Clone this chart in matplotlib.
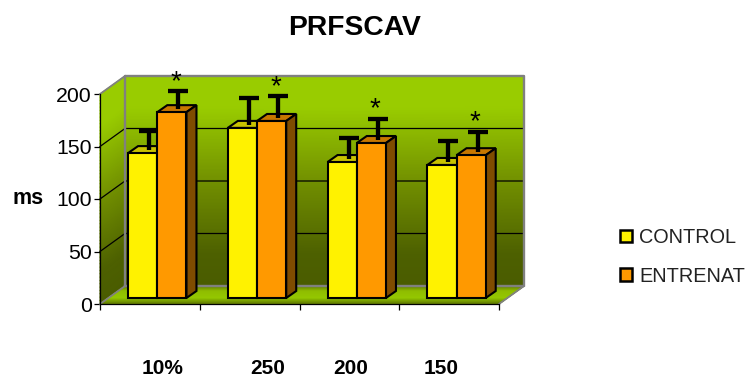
import numpy as np
import matplotlib
matplotlib.use("Agg")
import matplotlib.pyplot as plt
from matplotlib.colors import LinearSegmentedColormap
from matplotlib.patches import Polygon, Patch

categories = ["10%", "250", "200", "150"]
series_names = ["CONTROL", "ENTRENAT"]
control = [138, 162, 129.5, 126.7]
entrenat = [177, 168.6, 147.6, 136]
control_err = [21, 28, 22.5, 22.8]
entrenat_err = [20.4, 24, 23.2, 22.4]
value_ticks = [0, 50, 100, 150, 200]

W, H = 751, 377
plt.rcParams["font.family"] = ["Liberation Sans", "DejaVu Sans"]
fig = plt.figure(figsize=(W / 100, H / 100), dpi=100)
L, R, T, B = 100, 499, 94, 304
ax = fig.add_axes([L / W, 1 - B / H, (R - L) / W, (B - T) / H])
ax.set_xlim(0, 4)
ax.set_ylim(0, 200)
ux = 4 / (R - L)      # data per pixel, x
uy = 200 / (B - T)    # data per pixel, y
wall_dx, wall_dy = 25 * ux, 18 * uy
base = 6 * uy
bar_w = 29.2 * ux
dep_x, dep_y = 10 * ux, 7 * uy
grp_off = 7.4 * ux

wall_cmap = LinearSegmentedColormap.from_list(
    "wall", [(0, "#4a5c00"), (0.15, "#4d6000"), (0.5, "#729000"), (0.85, "#99cc00"), (1, "#99cc00")])
floor_cmap = LinearSegmentedColormap.from_list(
    "floor", [(0, "#5f7800"), (0.3, "#8fbd00"), (0.7, "#95c800"), (1, "#647f00")])

def shaded(ax, p00, p01, p10, p11, cmap, z, n=64):
    """Fill a quad with a gradient running from edge p00-p01 (0) to edge p10-p11 (1)."""
    t = np.linspace(0, 1, n)[:, None]
    p00, p01, p10, p11 = map(np.array, (p00, p01, p10, p11))
    xs = np.hstack([p00[0] + (p10[0] - p00[0]) * t, p01[0] + (p11[0] - p01[0]) * t])
    ys = np.hstack([p00[1] + (p10[1] - p00[1]) * t, p01[1] + (p11[1] - p01[1]) * t])
    ax.pcolormesh(xs, ys, np.hstack([t, t]), shading="gouraud", cmap=cmap, vmin=0, vmax=1,
                  clip_on=False, zorder=z)

# walls
shaded(ax, (wall_dx, wall_dy), (4 + wall_dx, wall_dy), (wall_dx, 200 + wall_dy),
       (4 + wall_dx, 200 + wall_dy), wall_cmap, 1)
shaded(ax, (0, 0), (wall_dx, wall_dy), (0, 200), (wall_dx, 200 + wall_dy), wall_cmap, 1)
shaded(ax, (wall_dx, wall_dy), (4 + wall_dx, wall_dy), (0, 0), (4, 0), floor_cmap, 1)

grey = "#808080"
for v in value_ticks[1:-1]:
    ax.plot([0, wall_dx, 4 + wall_dx], [v, v + wall_dy, v + wall_dy], color="black", lw=0.9,
            clip_on=False, zorder=2)
ax.plot([wall_dx, wall_dx, 4 + wall_dx, 4 + wall_dx, wall_dx],
        [wall_dy, 200 + wall_dy, 200 + wall_dy, wall_dy, wall_dy], color=grey, lw=1.7,
        clip_on=False, zorder=2)
ax.plot([0, wall_dx], [200, 200 + wall_dy], color=grey, lw=1.3, clip_on=False, zorder=2)
ax.plot([0, wall_dx], [0, wall_dy], color=grey, lw=1.3, clip_on=False, zorder=2)
ax.plot([4, 4 + wall_dx], [0, wall_dy], color=grey, lw=1.3, clip_on=False, zorder=2)

styles = [("#fff200", "#c8c200", "#7f7900"), ("#ff9900", "#c77700", "#7f4c00")]
lw = 1.5
centers = np.arange(4) + 0.5 + grp_off
for i, c in enumerate(centers):
    for s, (vals, errs) in enumerate([(control, control_err), (entrenat, entrenat_err)]):
        front, top, side = styles[s]
        x0 = c - bar_w + s * bar_w
        v = vals[i]
        z = 3 + s * 0.1 + i
        ax.add_patch(Polygon([[x0, v + base], [x0 + dep_x, v + base + dep_y],
                              [x0 + bar_w + dep_x, v + base + dep_y], [x0 + bar_w, v + base]],
                             fc=top, ec="black", lw=lw, zorder=z, clip_on=False))
        ax.add_patch(Polygon([[x0 + bar_w, base], [x0 + bar_w + dep_x, base + dep_y],
                              [x0 + bar_w + dep_x, v + base + dep_y], [x0 + bar_w, v + base]],
                             fc=side, ec="black", lw=lw, zorder=z, clip_on=False))
        ax.bar(x0, v, width=bar_w, bottom=base, align="edge", color=front, edgecolor="black",
               linewidth=lw, zorder=z + 0.01, clip_on=False)
        ex = x0 + bar_w / 2 + 6.5 * ux
        start = v + base + 3 * uy
        height = v + base + errs[i] - start
        _, caps, bars = ax.errorbar([ex], [start], yerr=[[0], [height]], color="black",
                                    elinewidth=3.1, capsize=6.9, capthick=3.1, zorder=z + 0.02)
        caps[0].set_visible(False)
        for a in list(caps) + list(bars):
            a.set_clip_on(False)
        if s == 1:
            ax.text(ex - 2.5 * ux, v + base + errs[i] + 9 * uy, "*", ha="center", va="center",
                    fontsize=20, color="black", zorder=9, clip_on=False)

# axes
for k in ["top", "right"]:
    ax.spines[k].set_visible(False)
for k in ["left", "bottom"]:
    ax.spines[k].set_linewidth(0.9)
    ax.spines[k].set_zorder(8)
ax.set_yticks(value_ticks)
ax.set_xticks(range(5))
ax.set_xticklabels([])
ax.tick_params(axis="y", labelsize=15.3, length=4.5, width=0.9, pad=1.5)
ax.tick_params(axis="x", length=4.5, width=0.9)

# text
fig.text(355 / W, 1 - 28 / H, "PRFSCAV", ha="center", va="center", fontsize=20.3, fontweight="bold")
fig.text(28.5 / W, 1 - 199 / H, "ms", ha="center", va="center", fontsize=15.5, fontweight="bold")
label_x = [162.5, 267.5, 350.5, 441.5]
for lab, x in zip(categories, label_x):
    fig.text(x / W, 1 - 368 / H, lab, ha="center", va="center", fontsize=15, fontweight="bold")

handles = [Patch(fc=styles[0][0], ec="black", lw=1.8), Patch(fc=styles[1][0], ec="black", lw=1.8)]
leg = ax.legend(handles, series_names, loc="upper left", bbox_to_anchor=(614 / W, 1 - 222 / H),
                bbox_transform=fig.transFigure, frameon=False, fontsize=14.3, handlelength=0.62,
                handleheight=0.62, handletextpad=0.35, labelspacing=1.0, borderpad=0.3, borderaxespad=0)
for t in leg.get_texts():
    t.set_color("#222222")

fig.savefig("out.png", dpi=100)
